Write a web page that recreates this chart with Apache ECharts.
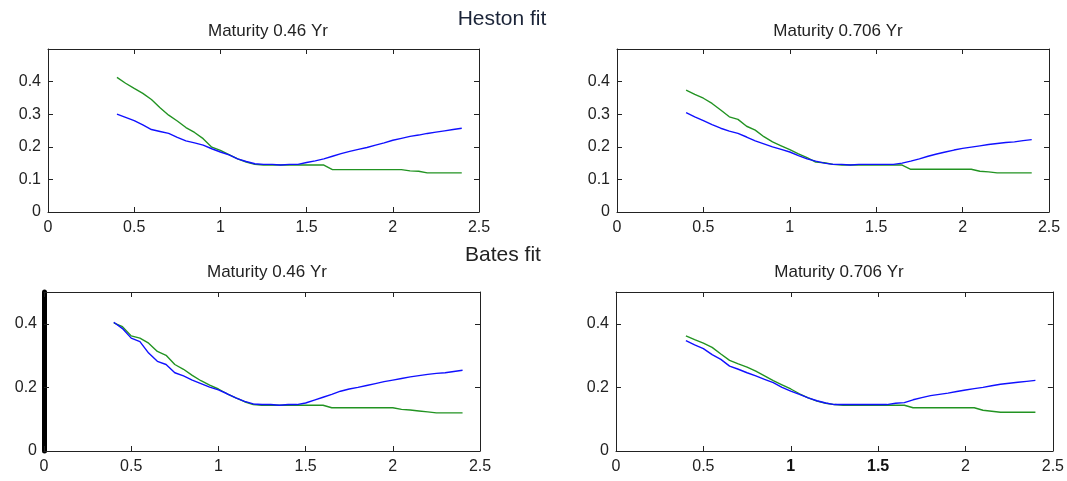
<!DOCTYPE html>
<html><head><meta charset="utf-8">
<script src="https://cdn.jsdelivr.net/npm/echarts@6/dist/echarts.min.js"></script>
<style>html,body{margin:0;padding:0;background:#fff}#c{width:1067px;height:481px}</style>
</head><body><div id="c"></div>
<script>
// Moneyness grid (x)
const xs = [0.4,0.45,0.5,0.55,0.6,0.65,0.7,0.75,0.8,0.85,0.9,0.95,1.0,1.05,1.1,1.15,1.2,1.25,1.3,1.35,1.4,1.45,1.5,1.55,1.6,1.65,1.7,1.75,1.8,1.85,1.9,1.95,2.0,2.05,2.1,2.15,2.2,2.25,2.3,2.35,2.4];
const xTicks = [0,0.5,1,1.5,2,2.5];
const hestonShortBlue = [.300,.290,.280,.267,.253,.247,.241,.229,.218,.212,.205,.194,.184,.175,.163,.155,.148,.146,.146,.144,.146,.146,.152,.157,.163,.171,.179,.186,.192,.198,.205,.212,.220,.226,.232,.236,.241,.245,.249,.253,.257];
const hestonShortGreen = [.413,.395,.379,.364,.345,.320,.297,.279,.259,.244,.225,.199,.189,.176,.163,.153,.146,.144,.144,.144,.144,.144,.144,.144,.144,.130,.130,.130,.130,.130,.130,.130,.130,.130,.126,.125,.120,.120,.120,.120,.120];
const hestonLongBlue = [.305,.292,.280,.268,.257,.248,.241,.230,.218,.209,.200,.192,.184,.173,.163,.156,.150,.146,.146,.144,.146,.146,.146,.146,.146,.150,.156,.163,.171,.178,.184,.190,.195,.199,.203,.207,.210,.213,.215,.219,.222];
const hestonLongGreen = [.374,.361,.349,.333,.313,.292,.284,.263,.251,.231,.215,.203,.191,.178,.167,.153,.151,.146,.144,.144,.144,.144,.144,.144,.144,.144,.131,.131,.131,.131,.131,.131,.131,.131,.125,.123,.120,.120,.120,.120,.120];
const batesShortBlue = [.405,.385,.355,.344,.308,.282,.272,.246,.236,.223,.212,.201,.192,.180,.167,.156,.148,.146,.146,.144,.146,.146,.151,.160,.169,.178,.188,.195,.200,.206,.212,.218,.223,.228,.233,.237,.241,.244,.246,.250,.254];
const batesShortGreen = [.403,.391,.362,.355,.339,.313,.301,.272,.257,.238,.221,.207,.195,.180,.167,.155,.146,.144,.144,.144,.144,.144,.144,.144,.144,.136,.136,.136,.136,.136,.136,.136,.136,.131,.129,.126,.123,.120,.120,.120,.120];
const batesLongBlue = [.347,.334,.322,.303,.288,.267,.257,.246,.236,.225,.215,.200,.188,.178,.167,.158,.151,.146,.146,.146,.146,.146,.146,.146,.150,.152,.161,.168,.174,.178,.182,.187,.192,.196,.200,.205,.210,.213,.216,.219,.222];
const batesLongGreen = [.362,.350,.339,.326,.305,.285,.274,.264,.251,.236,.221,.208,.195,.180,.167,.157,.150,.146,.144,.144,.144,.144,.144,.144,.144,.144,.136,.136,.136,.136,.136,.136,.136,.136,.128,.125,.122,.122,.122,.122,.122];
const panelTitles = ['Maturity 0.46 Yr','Maturity 0.706 Yr','Maturity 0.46 Yr','Maturity 0.706 Yr'];
const groupTitles = ['Heston fit','Bates fit'];

const FONT = '"Liberation Sans", Arial, sans-serif';
const grids = [
  {left:48, top:49, width:431, height:163},
  {left:617, top:49, width:432, height:163},
  {left:44, top:292, width:436, height:159},
  {left:616, top:292, width:437, height:159}
];
const yIntervals = [0.1,0.1,0.2,0.2];
const pairs = (ys) => xs.map((x,i)=>[x,ys[i]]);
const seriesData = [
  [hestonShortGreen, hestonShortBlue],
  [hestonLongGreen, hestonLongBlue],
  [batesShortGreen, batesShortBlue],
  [batesLongGreen, batesLongBlue]
];
const axisLineStyle = {color:'#222', width:1};
const xAxes = [], yAxes = [], series = [];
grids.forEach((g,i)=>{
  xAxes.push({type:'value', gridIndex:i, min:0, max:2.5, interval:0.5, position:'bottom',
    axisLine:{show:true, onZero:false, lineStyle:axisLineStyle},
    axisTick:{show:true, inside:true, length:5, lineStyle:axisLineStyle},
    splitLine:{show:false},
    axisLabel:{show:true, margin:8, color:'#222', fontSize:16, fontFamily:FONT,
      formatter: i===3 ? (v)=> (v===1||v===1.5) ? '{b|'+v+'}' : String(v) : (v)=>String(v),
      rich:{b:{fontWeight:'bold', fontSize:16, fontFamily:FONT, color:'#111'}}}
  });
  xAxes.push({type:'value', gridIndex:i, min:0, max:2.5, interval:0.5, position:'top',
    axisLine:{show:true, onZero:false, lineStyle:axisLineStyle},
    axisTick:{show:true, inside:true, length:5, lineStyle:axisLineStyle},
    splitLine:{show:false}, axisLabel:{show:false}});
  yAxes.push({type:'value', gridIndex:i, min:0, max:0.5, interval:yIntervals[i], position:'left',
    axisLine:{show:true, onZero:false, lineStyle: i===2 ? {color:'#000', width:5} : axisLineStyle},
    axisTick:{show:true, inside:true, length:5, lineStyle:axisLineStyle},
    splitLine:{show:false},
    axisLabel:{show:true, margin:7, color:'#222', fontSize:16, fontFamily:FONT, showMaxLabel:false,
      formatter:(v)=> String(+v.toFixed(2))}
  });
  yAxes.push({type:'value', gridIndex:i, min:0, max:0.5, interval:yIntervals[i], position:'right',
    axisLine:{show:true, onZero:false, lineStyle:axisLineStyle},
    axisTick:{show:true, inside:true, length:5, lineStyle:axisLineStyle},
    splitLine:{show:false}, axisLabel:{show:false}});
  const [gData, bData] = seriesData[i];
  series.push({type:'line', xAxisIndex:2*i, yAxisIndex:2*i, data:pairs(gData), showSymbol:false,
    lineStyle:{color:'#229322', width:1.4}, silent:true, animation:false, z:2});
  series.push({type:'line', xAxisIndex:2*i, yAxisIndex:2*i, data:pairs(bData), showSymbol:false,
    lineStyle:{color:'#1010ff', width:1.4}, silent:true, animation:false, z:3});
});
const titlePos = [[263,18],[833,18],[262,259],[834,259]];
const titles = panelTitles.map((t,i)=>({text:t, left:titlePos[i][0], top:titlePos[i][1], textAlign:'center',
  textStyle:{fontSize:17, fontWeight:'normal', color:'#222', fontFamily:FONT}}));
titles.push({text:groupTitles[0], left:497, top:4, textAlign:'center',
  textStyle:{fontSize:21, fontWeight:'normal', color:'#1b2438', fontFamily:FONT}});
titles.push({text:groupTitles[1], left:498, top:240, textAlign:'center',
  textStyle:{fontSize:21, fontWeight:'normal', color:'#222', fontFamily:FONT}});

const chart = echarts.init(document.getElementById('c'), null, {renderer:'canvas'});
chart.setOption({
  backgroundColor:'#fff', animation:false,
  title: titles, grid: grids, xAxis: xAxes, yAxis: yAxes, series: series
});
</script></body></html>
